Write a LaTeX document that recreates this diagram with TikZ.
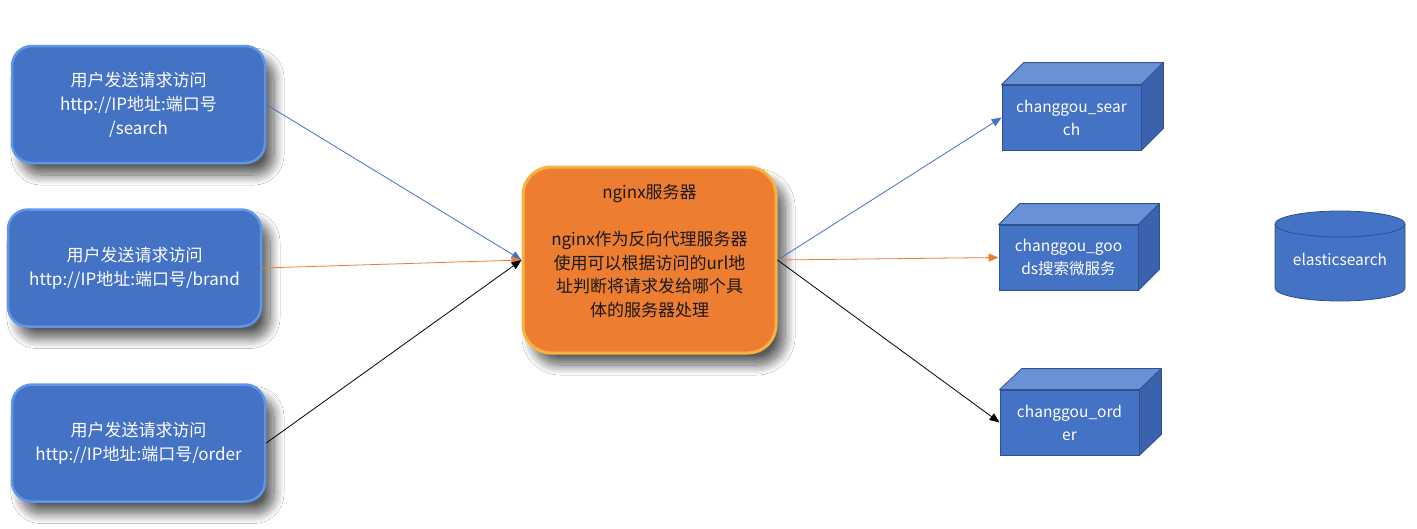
\documentclass[tikz,border=0pt]{standalone}
\usepackage{fontspec}
\setmainfont{Noto Sans CJK SC}
\usetikzlibrary{shadows.blur,arrows.meta}
\definecolor{boxblue}{HTML}{4472C4}
\definecolor{rimblue}{HTML}{5E96EA}
\definecolor{ngorange}{HTML}{ED7D31}
\definecolor{ngrim}{HTML}{F7B342}
\definecolor{cubeface}{HTML}{4472C4}
\definecolor{cubetop}{HTML}{6A90D6}
\definecolor{cubeside}{HTML}{3A62AD}
\definecolor{cubeedge}{HTML}{2F528F}
\definecolor{linkblue}{HTML}{4472C4}
\definecolor{linkorange}{HTML}{ED7D31}
\begin{document}
\begin{tikzpicture}[x=1pt,y=-1pt,
  softshadow/.style={blur shadow={shadow xshift=9pt, shadow yshift=-12pt, shadow blur radius=10pt, shadow blur steps=16, shadow opacity=65}},
  reqbox/.style={rectangle, rounded corners=20pt, fill=boxblue, draw=rimblue, line width=2.5pt,
    minimum width=253pt, minimum height=117pt, inner sep=0pt, text=white, align=center,
    font=\fontsize{17}{24}\selectfont, softshadow},
  ngbox/.style={rectangle, rounded corners=28pt, fill=ngorange, draw=ngrim, line width=3pt,
    minimum width=253pt, minimum height=186pt, inner sep=0pt, softshadow},
  ngtext/.style={align=center, text=black!90, font=\fontsize{17}{23.5}\selectfont},
  cubefront/.style={rectangle, fill=cubeface, draw=cubeedge, line width=0.8pt, minimum width=139pt,
    minimum height=65pt, inner sep=0pt, text=white, align=center, font=\fontsize{15.5}{23}\selectfont},
  cubetopst/.style={fill=cubetop, draw=cubeedge, line width=0.8pt, line join=round},
  cubesidest/.style={fill=cubeside, draw=cubeedge, line width=0.8pt, line join=round},
  dbst/.style={fill=boxblue, draw=cubeedge, line width=0.8pt},
  link/.style={line width=0.8pt, -{Triangle[length=10pt,width=8pt]}}
]
\useasboundingbox (0,0) rectangle (1417,528);
\fill[white] (0,0) rectangle (1417,528);

% request boxes
\node[reqbox] (b1) at (138.5,104.5) {用户发送请求访问\\http://IP地址:端口号\\/search};
\node[reqbox] (b2) at (134.5,268) {用户发送请求访问\\http://IP地址:端口号/brand};
\node[reqbox] (b3) at (138.5,443) {用户发送请求访问\\http://IP地址:端口号/order};

% nginx
\node[ngbox] (ng) at (649.5,260) {};
\node[ngtext] (ngt) at (649.5,251) {nginx服务器\\[23.5pt]nginx作为反向代理服务器\\使用可以根据访问的url地\\址判断将请求发给哪个具\\体的服务器处理};

% cubes
\node[cubefront] (cs) at (1071.5,117.5) {changgou\_sear\\ch};
\filldraw[cubetopst] (cs.north west) -- ++(22,-22) -- ([shift={(22,-22)}]cs.north east) -- (cs.north east) -- cycle;
\filldraw[cubesidest] (cs.north east) -- ++(22,-22) -- ([shift={(22,-22)}]cs.south east) -- (cs.south east) -- cycle;

\node[cubefront] (cg) at (1068.5,257.5) {changgou\_goo\\ds搜索微服务};
\filldraw[cubetopst] (cg.north west) -- ++(21,-21) -- ([shift={(21,-21)}]cg.north east) -- (cg.north east) -- cycle;
\filldraw[cubesidest] (cg.north east) -- ++(21,-21) -- ([shift={(21,-21)}]cg.south east) -- (cg.south east) -- cycle;

\node[cubefront] (co) at (1069.5,422.5) {changgou\_ord\\er};
\filldraw[cubetopst] (co.north west) -- ++(22,-21) -- ([shift={(22,-21)}]co.north east) -- (co.north east) -- cycle;
\filldraw[cubesidest] (co.north east) -- ++(22,-21) -- ([shift={(22,-21)}]co.south east) -- (co.south east) -- cycle;

% cylinder
\filldraw[dbst] (1275,224) -- (1275,288) arc (180:360:65pt and 13pt) -- (1405,224) arc (0:180:65pt and 13pt) -- cycle;
\draw[cubeedge, line width=0.8pt] (1275,224) arc (180:360:65pt and 13pt);
\node[text=white, font=\fontsize{15.5}{20}\selectfont] (el) at (1340,259) {elasticsearch};

% connectors
\draw[link, linkblue] (b1.east) -- (ng.west);
\draw[link, linkorange] (b2.east) -- (ng.west);
\draw[link, black] (b3.east) -- (ng.west);
\draw[link, linkblue] (ng.east) -- (cs.west);
\draw[link, linkorange] (ng.east) -- (cg.west);
\draw[link, black] (ng.east) -- (co.west);
\end{tikzpicture}
\end{document}
